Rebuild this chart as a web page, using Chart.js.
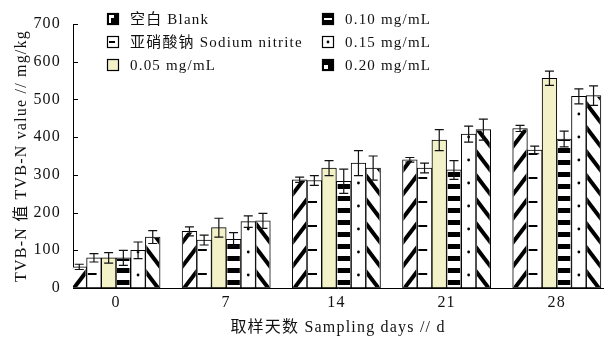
<!DOCTYPE html>
<html>
<head>
<meta charset="utf-8">
<script src="https://cdn.jsdelivr.net/npm/chart.js@4/dist/chart.umd.min.js"></script>
<style>
  html, body { margin: 0; padding: 0; background: #fff; }
  #wrap { width: 608px; height: 347px; }
</style>
</head>
<body>
<div id="wrap"><canvas id="c" width="608" height="347"></canvas></div>
<script>
// Sampling days (x positions) and y tick values
const days = [0, 7, 14, 21, 28];
const yTicks = [0, 100, 200, 300, 400, 500, 600, 700];

// TVB-N means (mg/kg) and standard deviations per treatment
const blank       = [56, 150, 287, 340, 423];
const blankErr    = [7, 12, 7, 6, 8];
const nitrite     = [80, 127, 285, 318, 366];
const nitriteErr  = [11, 13, 13, 13, 10];
const conc005     = [80, 160, 318, 392, 556];
const conc005Err  = [14, 25, 20, 28, 19];
const conc010     = [80, 129, 283, 313, 395];
const conc010Err  = [20, 18, 32, 25, 21];
const conc015     = [100, 176, 331, 408, 508];
const conc015Err  = [22, 15, 33, 21, 20];
const conc020     = [135, 178, 318, 420, 510];
const conc020Err  = [17, 20, 32, 28, 26];

const seriesLabels = ['空白 Blank', '亚硝酸钠 Sodium nitrite', '0.05 mg/mL', '0.10 mg/mL', '0.15 mg/mL', '0.20 mg/mL'];

const FONT = '"Liberation Serif", "Noto Sans CJK SC", serif';

function pts(vals) { return vals.map((v, i) => ({ x: days[i], y: v })); }

// fill decoration for each treatment, drawn inside a bar rectangle
function decorate(ctx, kind, x0, x1, yTop, yBase) {
  ctx.save();
  ctx.beginPath();
  ctx.rect(x0, yTop, x1 - x0, yBase - yTop);
  ctx.clip();
  ctx.fillStyle = '#000';
  ctx.strokeStyle = '#000';
  const h = yBase - yTop;
  if (kind === 'diagUp' || kind === 'diagDown') {
    const P = 24, rise = 20;
    ctx.lineWidth = 4;
    for (let k = -1; k * P < h + rise + P; k++) {
      const y = yBase + 4 - k * P;
      ctx.beginPath();
      if (kind === 'diagUp') { ctx.moveTo(x0 - 2, y + 1); ctx.lineTo(x1 + 2, y - rise - 1); }
      else { ctx.moveTo(x0 - 2, y - rise - 1); ctx.lineTo(x1 + 2, y + 1); }
      ctx.stroke();
    }
  } else if (kind === 'hstripe') {
    for (let y = yBase - 2; y > yTop - 6; y -= 12) {
      ctx.fillRect(x0, y - 5, x1 - x0, 5);
    }
  } else if (kind === 'dashes') {
    ctx.lineWidth = 2;
    for (let y = yBase - 13; y > yTop; y -= 24) {
      ctx.beginPath(); ctx.moveTo(x0, y); ctx.lineTo(x0 + 9, y); ctx.stroke();
    }
  } else if (kind === 'dots') {
    const cx = (x0 + x1) / 2;
    for (let y = yBase - 12; y > yTop; y -= 23) {
      ctx.beginPath(); ctx.arc(cx, y, 1.4, 0, Math.PI * 2); ctx.fill();
    }
  }
  ctx.restore();
}

const kinds = ['diagUp', 'dashes', 'none', 'hstripe', 'dots', 'diagDown'];
const errs = [blankErr, nitriteErr, conc005Err, conc010Err, conc015Err, conc020Err];
const fills = ['#ffffff', '#ffffff', '#f2f1c8', '#ffffff', '#ffffff', '#ffffff'];

const barDecor = {
  id: 'barDecor',
  beforeDraw(chart) { chart.ctx.letterSpacing = '1.2px'; },
  afterDatasetsDraw(chart) {
    const ctx = chart.ctx;
    const yScale = chart.scales.y;
    chart.data.datasets.forEach((ds, di) => {
      const meta = chart.getDatasetMeta(di);
      meta.data.forEach((el) => {
        const p = el.getProps(['x', 'y', 'base', 'width'], true);
        const x0 = p.x - p.width / 2 + 1, x1 = p.x + p.width / 2 - 1;
        decorate(ctx, kinds[di], x0, x1, p.y + 1, p.base - 1);
      });
    });
    // error bars
    ctx.save();
    ctx.strokeStyle = '#111';
    ctx.lineWidth = 1.2;
    chart.data.datasets.forEach((ds, di) => {
      const meta = chart.getDatasetMeta(di);
      meta.data.forEach((el, i) => {
        const v = ds.data[i].y, e = errs[di][i];
        const x = el.x;
        const yt = yScale.getPixelForValue(v + e);
        const yb = yScale.getPixelForValue(v - e);
        ctx.beginPath();
        ctx.moveTo(x, yt); ctx.lineTo(x, yb);
        ctx.moveTo(x - 4.5, yt); ctx.lineTo(x + 4.5, yt);
        ctx.moveTo(x - 4.5, yb); ctx.lineTo(x + 4.5, yb);
        ctx.stroke();
      });
    });
    ctx.restore();
  },
  afterDraw(chart) {
    const ctx = chart.ctx;
    const yScale = chart.scales.y;
    const left = chart.chartArea.left;
    // inward tick marks on the value axis
    ctx.save();
    ctx.strokeStyle = '#000';
    ctx.lineWidth = 1;
    yScale.ticks.forEach(t => {
      const y = Math.round(yScale.getPixelForValue(t.value)) + 0.5;
      ctx.beginPath(); ctx.moveTo(left, y); ctx.lineTo(left + 5, y); ctx.stroke();
    });
    ctx.restore();

    // legend, two columns of three
    const cols = [107, 322];
    const rows = [19, 42, 65];
    ctx.save();
    ctx.font = '15px ' + FONT;
    ctx.textBaseline = 'middle';
    ctx.textAlign = 'left';
    ctx.letterSpacing = '1.2px';
    chart.data.datasets.forEach((ds, di) => {
      const sx = cols[Math.floor(di / 3)], sy = rows[di % 3] - 6;
      const s = 12;
      ctx.fillStyle = (di === 0 || di === 3 || di === 5) ? '#000' : fills[di];
      ctx.fillRect(sx, sy, s, s);
      ctx.fillStyle = '#fff';
      if (di === 0) { ctx.fillRect(sx + 2, sy + 2, 5, 3); ctx.fillRect(sx + 2, sy + 5, 2, 5); }
      if (di === 3) { ctx.fillRect(sx + 2, sy + 5, 8, 2); }
      if (di === 5) { ctx.fillRect(sx + 2, sy + 6, 4, 4); }
      ctx.fillStyle = '#000';
      if (di === 1) { ctx.fillRect(sx + 2, sy + 5, 6, 2); }
      if (di === 4) { ctx.beginPath(); ctx.arc(sx + 6, sy + 6, 1.4, 0, Math.PI * 2); ctx.fill(); }
      ctx.strokeStyle = '#000';
      ctx.lineWidth = 1.2;
      ctx.strokeRect(sx + 0.5, sy + 0.5, s - 1, s - 1);
      ctx.fillStyle = '#111';
      ctx.fillText(ds.label, sx + 23, rows[di % 3] + 1);
    });
    ctx.restore();
  }
};

const seriesValues = [blank, nitrite, conc005, conc010, conc015, conc020];

new Chart(document.getElementById('c'), {
  type: 'bar',
  data: {
    datasets: seriesValues.map((vals, i) => ({
      label: seriesLabels[i],
      data: pts(vals),
      backgroundColor: fills[i],
      borderColor: '#000',
      borderWidth: 1,
      borderSkipped: false,
      barThickness: 14.7
    }))
  },
  options: {
    responsive: false,
    devicePixelRatio: 1,
    animation: false,
    layout: { padding: { left: 8, right: 5, top: 24, bottom: 6 } },
    plugins: { legend: { display: false }, tooltip: { enabled: false } },
    scales: {
      x: {
        type: 'linear',
        offset: false,
        min: -2.731,
        max: 30.935,
        grid: { display: false, drawTicks: false, offset: false },
        border: { display: true, color: '#000', width: 1 },
        afterBuildTicks(scale) { scale.ticks = days.map(d => ({ value: d })); },
        afterFit(scale) { scale.height = 53; },
        ticks: {
          color: '#111',
          padding: 5,
          maxRotation: 0,
          autoSkip: false,
          font: { family: FONT, size: 16 },
          callback: (v) => String(v)
        },
        title: {
          display: true,
          text: '取样天数 Sampling days // d',
          color: '#111',
          font: { family: FONT, size: 16 },
          padding: { top: 4, bottom: 4 }
        }
      },
      y: {
        min: 0,
        max: 700,
        grid: { display: false, drawTicks: false },
        border: { display: true, color: '#000', width: 1 },
        afterBuildTicks(scale) { scale.ticks = yTicks.map(v => ({ value: v })); },
        afterFit(scale) { scale.width = 65; },
        ticks: {
          color: '#111',
          padding: 12,
          font: { family: FONT, size: 16 }
        },
        title: {
          display: true,
          text: 'TVB-N 值 TVB-N value // mg/kg',
          color: '#111',
          font: { family: FONT, size: 16 },
          padding: { top: 4, bottom: 4 }
        }
      }
    }
  },
  plugins: [barDecor]
});
</script>
</body>
</html>
